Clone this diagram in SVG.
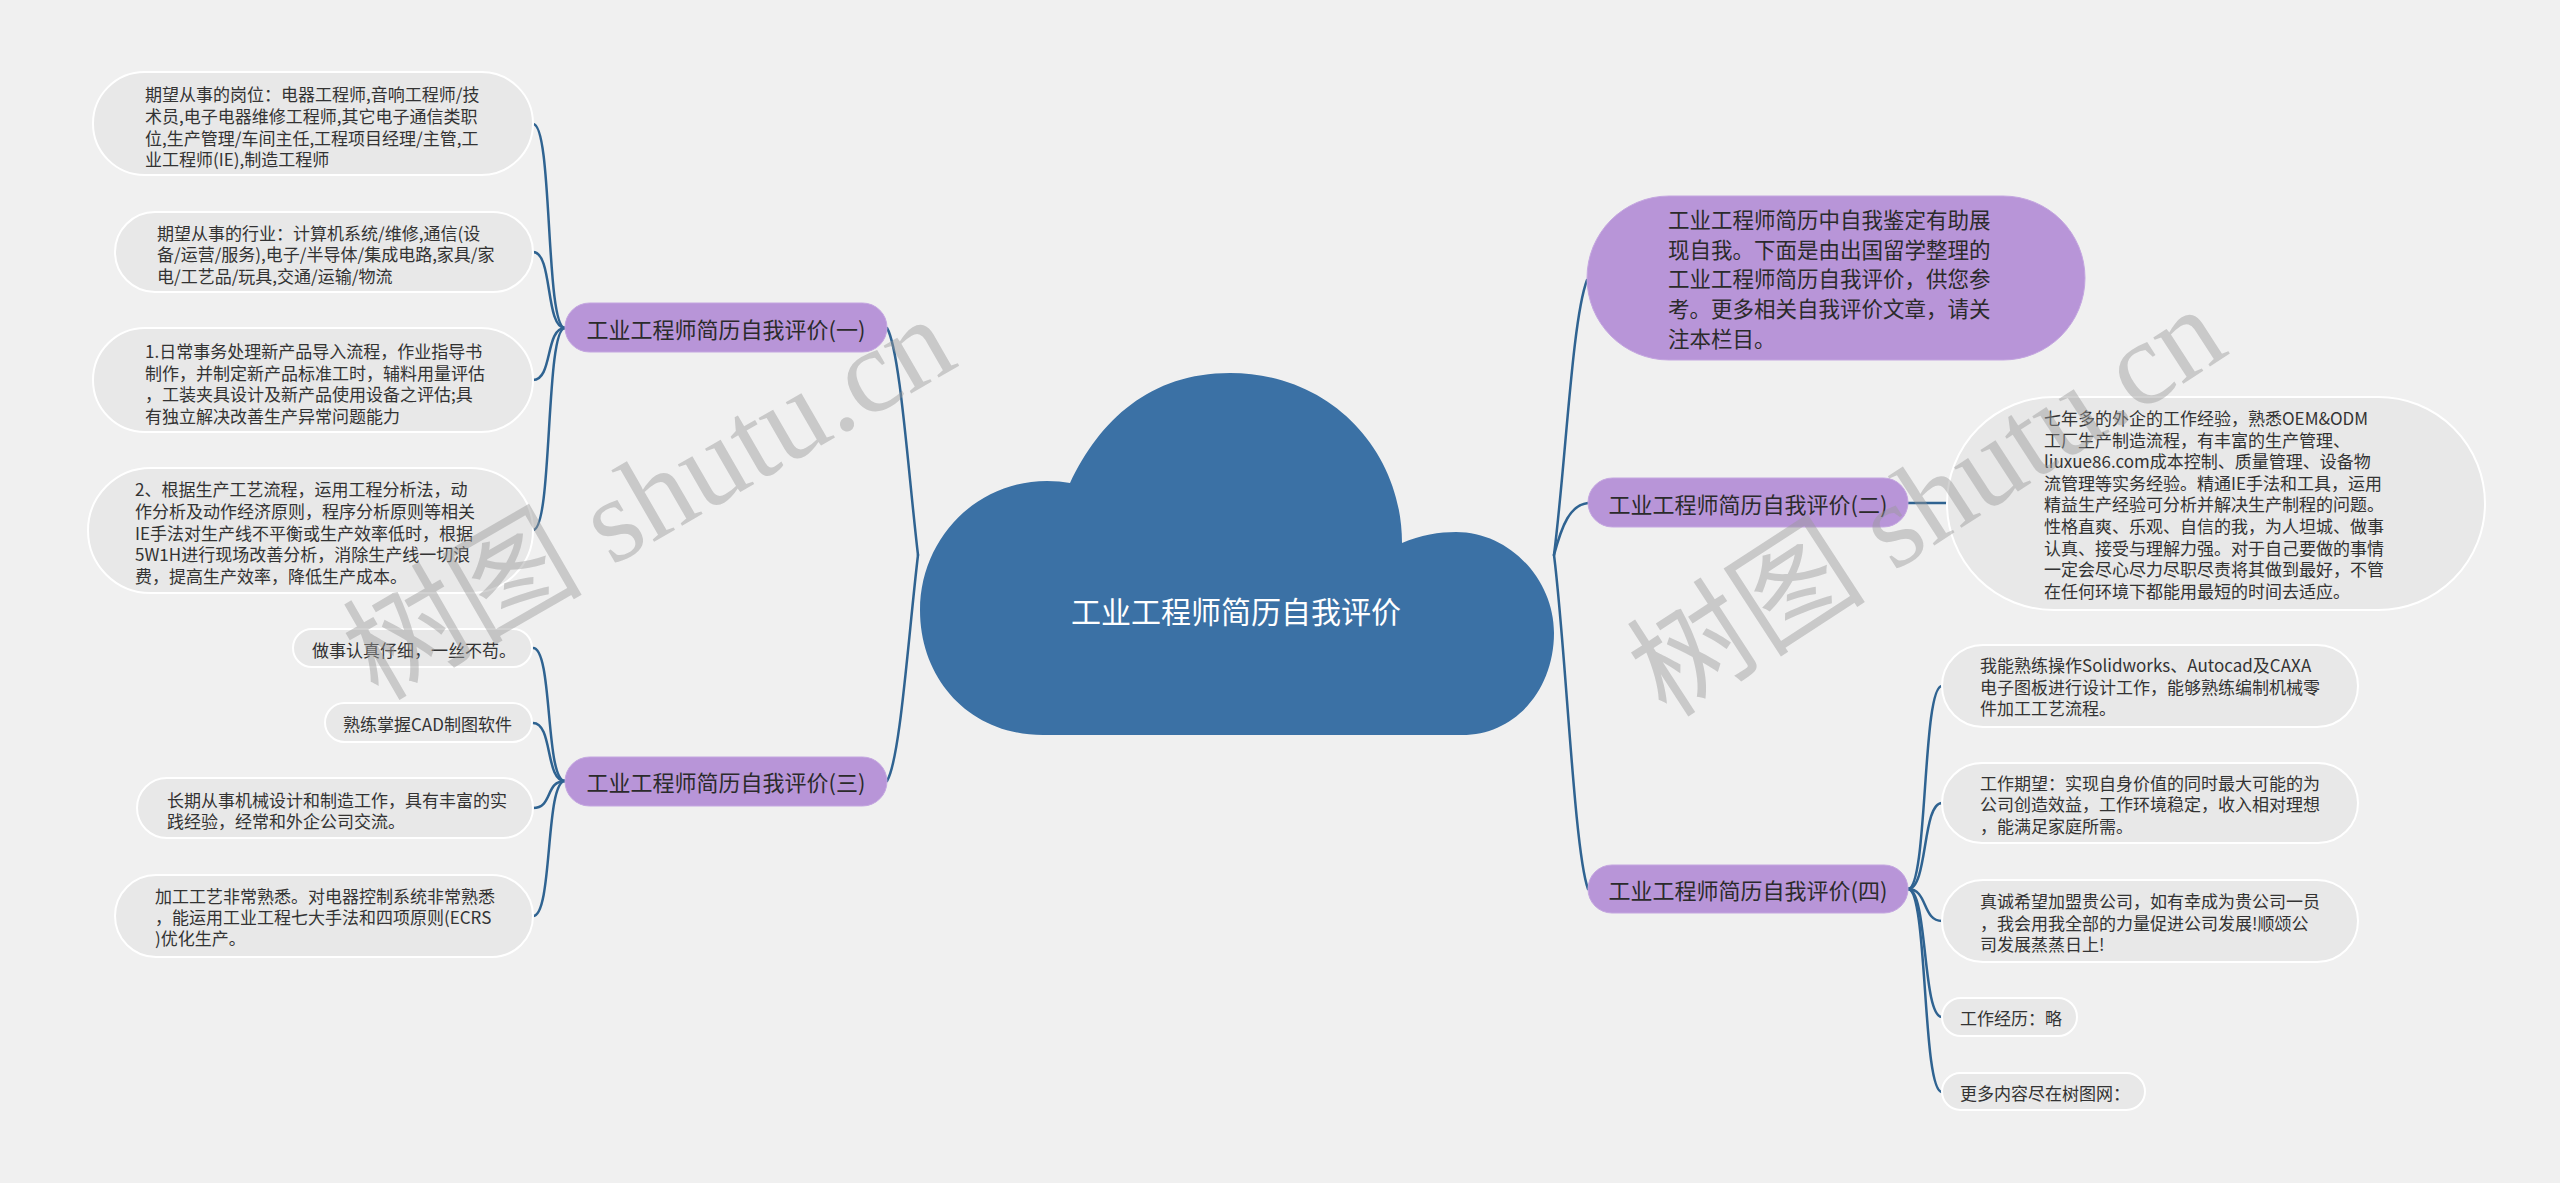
<svg xmlns="http://www.w3.org/2000/svg" width="2560" height="1183" viewBox="0 0 2560 1183">
<style>
.bg{fill:#f0f0f0}
.leaf{fill:#e8e8e8;stroke:#ffffff;stroke-width:2}
.main{fill:#b895d8;stroke:#c4a6e0;stroke-width:1}
.t{font-family:"Noto Sans CJK SC","Noto Sans",sans-serif;fill:#333333;dominant-baseline:central}
.lt{font-size:17px}
.mt{font-size:22px;fill:#2b2b2b;text-anchor:middle}
.it{font-size:21.5px;fill:#2b2b2b}
.conn path{fill:none;stroke:#2f6391;stroke-width:2.5;stroke-linecap:round}
.wm{font-family:"Liberation Serif","Noto Sans CJK SC",serif;font-size:120px;fill:#9a9a9a;fill-opacity:0.45;text-anchor:middle;dominant-baseline:central}
</style>
<rect class="bg" x="0" y="0" width="2560" height="1183"/>

<g id="connectors" class="conn">
<path d="M 918 555 C 908 470, 900 350, 887 328"/>
<path d="M 918 555 C 908 640, 900 760, 887 781"/>
<path d="M 1554 555 C 1566 460, 1572 320, 1587 280"/>
<path d="M 1554 555 C 1562 525, 1570 505, 1588 503"/>
<path d="M 1554 555 C 1566 650, 1574 850, 1588 889"/>
<path d="M 565 328 C 545 328, 553 124, 533 124"/>
<path d="M 565 328 C 545 328, 553 252, 533 252"/>
<path d="M 565 328 C 545 328, 553 380, 533 380"/>
<path d="M 565 328 C 545 328, 553 530, 533 530"/>
<path d="M 565 781 C 545 781, 553 648, 533 648"/>
<path d="M 565 781 C 545 781, 553 723, 533 723"/>
<path d="M 565 781 C 545 781, 553 808, 533 808"/>
<path d="M 565 781 C 545 781, 553 916, 533 916"/>
<path d="M 1908 503 L 1947 503"/>
<path d="M 1908 889 C 1928 889, 1922 686, 1942 686"/>
<path d="M 1908 889 C 1928 889, 1922 803, 1942 803"/>
<path d="M 1908 889 C 1928 889, 1922 921, 1942 921"/>
<path d="M 1908 889 C 1928 889, 1922 1017, 1942 1017"/>
<path d="M 1908 889 C 1928 889, 1922 1092, 1942 1092"/>
</g>

<g id="root">
<path d="M 1043 735 C 970 735, 920 680, 920 610 C 920 540, 975 481, 1047 481 Q 1060 481, 1070 483 C 1100 420, 1150 373, 1230 373 C 1330 373, 1402 450, 1402 543 C 1420 535, 1440 532, 1456 532 C 1510 532, 1554 580, 1554 633 C 1554 690, 1515 735, 1462 735 Z" fill="#3b71a5"/>
<text x="1236" y="610" font-family="'Noto Sans CJK SC',sans-serif" font-size="30" fill="#ffffff" text-anchor="middle" dominant-baseline="central">工业工程师简历自我评价</text>
</g>

<g id="n1">
<rect class="main" x="565" y="303" width="322" height="49" rx="24.5"/>
<text class="t mt" x="726" y="328">工业工程师简历自我评价(一)</text>
</g>
<g id="n1-1">
<rect class="leaf" x="93" y="72" width="440" height="103" rx="51.5"/>
<text class="t lt" x="145"><tspan x="145" y="93">期望从事的岗位：电器工程师,音响工程师/技</tspan><tspan x="145" y="115">术员,电子电器维修工程师,其它电子通信类职</tspan><tspan x="145" y="137">位,生产管理/车间主任,工程项目经理/主管,工</tspan><tspan x="145" y="158">业工程师(IE),制造工程师</tspan></text>
</g>
<g id="n1-2">
<rect class="leaf" x="115" y="212" width="418" height="80" rx="40"/>
<text class="t lt"><tspan x="157" y="232">期望从事的行业：计算机系统/维修,通信(设</tspan><tspan x="157" y="253">备/运营/服务),电子/半导体/集成电路,家具/家</tspan><tspan x="157" y="275">电/工艺品/玩具,交通/运输/物流</tspan></text>
</g>
<g id="n1-3">
<rect class="leaf" x="93" y="328" width="440" height="104" rx="52"/>
<text class="t lt"><tspan x="145" y="350">1.日常事务处理新产品导入流程，作业指导书</tspan><tspan x="145" y="372">制作，并制定新产品标准工时，辅料用量评估</tspan><tspan x="145" y="393">，工装夹具设计及新产品使用设备之评估;具</tspan><tspan x="145" y="415">有独立解决改善生产异常问题能力</tspan></text>
</g>
<g id="n1-4">
<rect class="leaf" x="88" y="468" width="445" height="125" rx="62.5"/>
<text class="t lt"><tspan x="135" y="488">2、根据生产工艺流程，运用工程分析法，动</tspan><tspan x="135" y="510">作分析及动作经济原则，程序分析原则等相关</tspan><tspan x="135" y="532">IE手法对生产线不平衡或生产效率低时，根据</tspan><tspan x="135" y="553">5W1H进行现场改善分析，消除生产线一切浪</tspan><tspan x="135" y="575">费，提高生产效率，降低生产成本。</tspan></text>
</g>

<g id="n3">
<rect class="main" x="565" y="757" width="322" height="49" rx="24.5"/>
<text class="t mt" x="726" y="781">工业工程师简历自我评价(三)</text>
</g>
<g id="n3-1">
<rect class="leaf" x="293" y="629" width="239" height="38" rx="19"/>
<text class="t lt" x="312" y="649">做事认真仔细，一丝不苟。</text>
</g>
<g id="n3-2">
<rect class="leaf" x="325" y="703" width="207" height="39" rx="19.5"/>
<text class="t lt" x="343" y="723">熟练掌握CAD制图软件</text>
</g>
<g id="n3-3">
<rect class="leaf" x="137" y="778" width="396" height="60" rx="30"/>
<text class="t lt"><tspan x="167" y="799">长期从事机械设计和制造工作，具有丰富的实</tspan><tspan x="167" y="820">践经验，经常和外企公司交流。</tspan></text>
</g>
<g id="n3-4">
<rect class="leaf" x="115" y="875" width="418" height="82" rx="41"/>
<text class="t lt"><tspan x="155" y="895">加工工艺非常熟悉。对电器控制系统非常熟悉</tspan><tspan x="155" y="916">，能运用工业工程七大手法和四项原则(ECRS</tspan><tspan x="155" y="937">)优化生产。</tspan></text>
</g>

<g id="intro">
<rect class="main" x="1587" y="196" width="498" height="164" rx="82"/>
<text class="t it"><tspan x="1668" y="218">工业工程师简历中自我鉴定有助展</tspan><tspan x="1668" y="248">现自我。下面是由出国留学整理的</tspan><tspan x="1668" y="277">工业工程师简历自我评价，供您参</tspan><tspan x="1668" y="307">考。更多相关自我评价文章，请关</tspan><tspan x="1668" y="337">注本栏目。</tspan></text>
</g>

<g id="n2">
<rect class="main" x="1588" y="478" width="320" height="49" rx="24.5"/>
<text class="t mt" x="1748" y="503">工业工程师简历自我评价(二)</text>
</g>
<g id="n2-1">
<rect class="leaf" x="1947" y="397" width="538" height="213" rx="106.5"/>
<text class="t lt"><tspan x="2044" y="417">七年多的外企的工作经验，熟悉OEM&amp;ODM</tspan><tspan x="2044" y="439">工厂生产制造流程，有丰富的生产管理、</tspan><tspan x="2044" y="460">liuxue86.com成本控制、质量管理、设备物</tspan><tspan x="2044" y="482">流管理等实务经验。精通IE手法和工具，运用</tspan><tspan x="2044" y="503">精益生产经验可分析并解决生产制程的问题。</tspan><tspan x="2044" y="525">性格直爽、乐观、自信的我，为人坦城、做事</tspan><tspan x="2044" y="547">认真、接受与理解力强。对于自己要做的事情</tspan><tspan x="2044" y="568">一定会尽心尽力尽职尽责将其做到最好，不管</tspan><tspan x="2044" y="590">在任何环境下都能用最短的时间去适应。</tspan></text>
</g>

<g id="n4">
<rect class="main" x="1588" y="865" width="320" height="48" rx="24"/>
<text class="t mt" x="1748" y="889">工业工程师简历自我评价(四)</text>
</g>
<g id="n4-1">
<rect class="leaf" x="1942" y="645" width="416" height="82" rx="41"/>
<text class="t lt"><tspan x="1980" y="664">我能熟练操作Solidworks、Autocad及CAXA</tspan><tspan x="1980" y="686">电子图板进行设计工作，能够熟练编制机械零</tspan><tspan x="1980" y="707">件加工工艺流程。</tspan></text>
</g>
<g id="n4-2">
<rect class="leaf" x="1942" y="763" width="416" height="80" rx="40"/>
<text class="t lt"><tspan x="1980" y="782">工作期望：实现自身价值的同时最大可能的为</tspan><tspan x="1980" y="803">公司创造效益，工作环境稳定，收入相对理想</tspan><tspan x="1980" y="825">，能满足家庭所需。</tspan></text>
</g>
<g id="n4-3">
<rect class="leaf" x="1942" y="880" width="416" height="82" rx="41"/>
<text class="t lt"><tspan x="1980" y="900">真诚希望加盟贵公司，如有幸成为贵公司一员</tspan><tspan x="1980" y="922">，我会用我全部的力量促进公司发展!顺颂公</tspan><tspan x="1980" y="943">司发展蒸蒸日上!</tspan></text>
</g>
<g id="n4-4">
<rect class="leaf" x="1942" y="998" width="135" height="38" rx="19"/>
<text class="t lt" x="1960" y="1017">工作经历：略</text>
</g>
<g id="n4-5">
<rect class="leaf" x="1942" y="1073" width="203" height="37" rx="18.5"/>
<text class="t lt" x="1960" y="1092">更多内容尽在树图网：</text>
</g>

<g id="watermark">
<text class="wm" transform="translate(649 498) rotate(-30)">树图 shutu.cn</text>
<text class="wm" transform="translate(1927 502) rotate(-33)">树图 shutu.cn</text>
</g>
</svg>
